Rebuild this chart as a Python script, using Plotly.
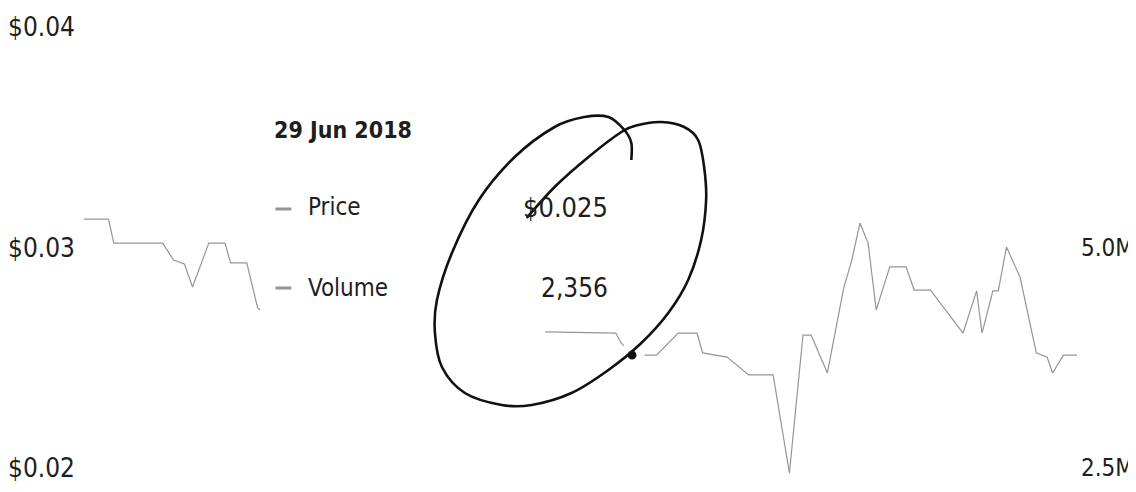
import plotly.graph_objects as go
import pandas as pd

# ---------------- data ----------------
price_dates = [
    "2017-12-09", "2017-12-18", "2017-12-20", "2018-01-07", "2018-01-11", "2018-01-15",
    "2018-01-18", "2018-01-24", "2018-01-30", "2018-02-01", "2018-02-07", "2018-02-11",
    "2018-02-12", "2018-04-05",
    "2018-05-28", "2018-06-23", "2018-06-25", "2018-06-29", "2018-07-03", "2018-07-08",
    "2018-07-16", "2018-07-23", "2018-07-25", "2018-08-03", "2018-08-11", "2018-08-20",
    "2018-08-26", "2018-08-31", "2018-09-03", "2018-09-09", "2018-09-15", "2018-09-18",
    "2018-09-21", "2018-09-24", "2018-09-27", "2018-10-02", "2018-10-08", "2018-10-11",
    "2018-10-17", "2018-10-29", "2018-11-03", "2018-11-05", "2018-11-09", "2018-11-11",
    "2018-11-14", "2018-11-19", "2018-11-25", "2018-11-29", "2018-12-01", "2018-12-05",
    "2018-12-10",
]
price_values = [
    0.03129, 0.03129, 0.03020, 0.03020, 0.02943, 0.02925,
    0.02821, 0.03020, 0.03020, 0.02930, 0.02930, 0.02726,
    0.02717, None,
    0.02617, 0.02612, 0.02567, 0.02512, 0.02512, 0.02512,
    0.02612, 0.02612, 0.02522, 0.02503, 0.02422, 0.02422,
    0.01977, 0.02603, 0.02603, 0.02431, 0.02816, 0.02943,
    0.03111, 0.03020, 0.02717, 0.02912, 0.02912, 0.02807,
    0.02807, 0.02612, 0.02803, 0.02612, 0.02803, 0.02803,
    0.03002, 0.02866, 0.02522, 0.02503, 0.02431, 0.02512,
    0.02512,
]
hover_date = "2018-06-29"
hover_label = "29 Jun 2018"
hover_price = 0.02512
hover_volume = 2356
volume_dates = [hover_date]
volume_values = [hover_volume]
price_ticks = [0.02, 0.03, 0.04]
volume_ticks = [2.5e6, 5.0e6]

# ---------------- layout helpers ----------------
OFF = 8                      # default page body margin
W, H = 1136 - OFF, 492 - OFF
ML, MR, MT, MB = 73, 59, 0, 0
PW = W - ML - MR
PH = H - MT - MB
x0 = pd.Timestamp("2017-12-09")
x1 = pd.Timestamp("2018-12-10")


def px(x):  # screen x -> paper
    return (x - OFF - ML) / PW


def py(y):  # screen y -> paper
    return 1 - (y - OFF - MT) / PH


Y_TICK = 247.5               # screen y of 0.03 / 5.0M
SPAN = 220.5                 # pixels per tick step
y_top_px, y_bot_px = OFF + MT, OFF + MT + PH

FONT = "DejaVu Sans Condensed, Liberation Sans Narrow, sans-serif"
TXT = "#1e1e1e"
GREY = "#959595"

fig = go.Figure()
fig.add_trace(go.Scatter(
    x=price_dates, y=price_values, mode="lines", name="Price",
    line=dict(color=GREY, width=1.2), connectgaps=False, hoverinfo="skip",
))
fig.add_trace(go.Scatter(
    x=volume_dates, y=volume_values, mode="lines", name="Volume", yaxis="y2",
    line=dict(color=GREY, width=1.2), hoverinfo="skip",
))
fig.add_trace(go.Scatter(
    x=[hover_date], y=[hover_price], mode="markers", name="hover",
    marker=dict(size=17, color="#111111", line=dict(color="white", width=8)),
    hoverinfo="skip",
))

# hand-drawn ellipse around the tooltip values (screen pixel guide points)
ell = [(525, 218), (553, 187), (587, 157), (620, 132), (637, 125), (660, 122), (683, 127),
       (697, 140), (703, 167), (705, 200), (700, 240), (687, 280), (667, 313), (640, 343),
       (607, 370), (570, 393), (530, 405), (500, 405), (463, 393), (440, 367), (433, 333),
       (435, 300), (450, 253), (477, 200), (513, 157), (553, 127), (583, 117), (607, 117),
       (623, 130), (630, 143), (630, 160)]


def smooth_path(pts):
    P = [(px(a), py(b)) for a, b in pts]
    d = f"M {P[0][0]:.5f},{P[0][1]:.5f}"
    n = len(P)
    for i in range(n - 1):
        p0 = P[i - 1] if i > 0 else P[i]
        p1 = P[i]
        p2 = P[i + 1]
        p3 = P[i + 2] if i + 2 < n else P[i + 1]
        c1 = (p1[0] + (p2[0] - p0[0]) / 6, p1[1] + (p2[1] - p0[1]) / 6)
        c2 = (p2[0] - (p3[0] - p1[0]) / 6, p2[1] - (p3[1] - p1[1]) / 6)
        d += f" C {c1[0]:.5f},{c1[1]:.5f} {c2[0]:.5f},{c2[1]:.5f} {p2[0]:.5f},{p2[1]:.5f}"
    return d


shapes = [
    dict(type="path", xref="paper", yref="paper", path=smooth_path(ell),
         line=dict(color="#111111", width=2.6), layer="above"),
    dict(type="line", xref="paper", yref="paper", x0=px(273), x1=px(289), y0=py(209), y1=py(209),
         line=dict(color=GREY, width=3)),
    dict(type="line", xref="paper", yref="paper", x0=px(273), x1=px(289), y0=py(288), y1=py(288),
         line=dict(color=GREY, width=3)),
]

annotations = [
    dict(text=f"<b>{hover_label}</b>", x=px(270), y=py(130), xref="paper", yref="paper",
         xanchor="left", yanchor="middle", showarrow=False,
         font=dict(family=FONT, size=23, color=TXT)),
    dict(text="Price", x=px(304), y=py(207), xref="paper", yref="paper",
         xanchor="left", yanchor="middle", showarrow=False,
         font=dict(family=FONT, size=24, color=TXT)),
    dict(text="Volume", x=px(304), y=py(288), xref="paper", yref="paper",
         xanchor="left", yanchor="middle", showarrow=False,
         font=dict(family=FONT, size=24, color=TXT)),
    dict(text=f"${hover_price:.3f}", x=px(609), y=py(207), xref="paper", yref="paper",
         xanchor="right", yanchor="middle", showarrow=False,
         font=dict(family=FONT, size=27, color=TXT)),
    dict(text=f"{hover_volume:,}", x=px(609), y=py(288), xref="paper", yref="paper",
         xanchor="right", yanchor="middle", showarrow=False,
         font=dict(family=FONT, size=26, color=TXT)),
]

fig.update_layout(
    width=W, height=H,
    margin=dict(l=ML, r=MR, t=MT, b=MB, pad=0),
    paper_bgcolor="white", plot_bgcolor="white",
    showlegend=False, hovermode=False,
    xaxis=dict(type="date", range=[x0, x1], visible=False, showgrid=False, zeroline=False),
    yaxis=dict(range=[0.03 - (y_bot_px - Y_TICK) * 0.01 / SPAN,
                      0.03 + (Y_TICK - y_top_px) * 0.01 / SPAN],
               tickvals=price_ticks, tickformat="$.2f",
               showgrid=False, zeroline=False, showline=False, ticks="",
               ticklabelstandoff=8, tickfont=dict(family=FONT, size=26, color=TXT)),
    yaxis2=dict(overlaying="y", side="right",
                range=[5e6 - (y_bot_px - Y_TICK) * 2.5e6 / SPAN,
                       5e6 + (Y_TICK - y_top_px) * 2.5e6 / SPAN],
                tickvals=volume_ticks, tickformat=".2s",
                showgrid=False, zeroline=False, showline=False, ticks="",
                ticklabelstandoff=3, tickfont=dict(family=FONT, size=24, color=TXT)),
    shapes=shapes, annotations=annotations,
)

fig.write_html("out.html")
